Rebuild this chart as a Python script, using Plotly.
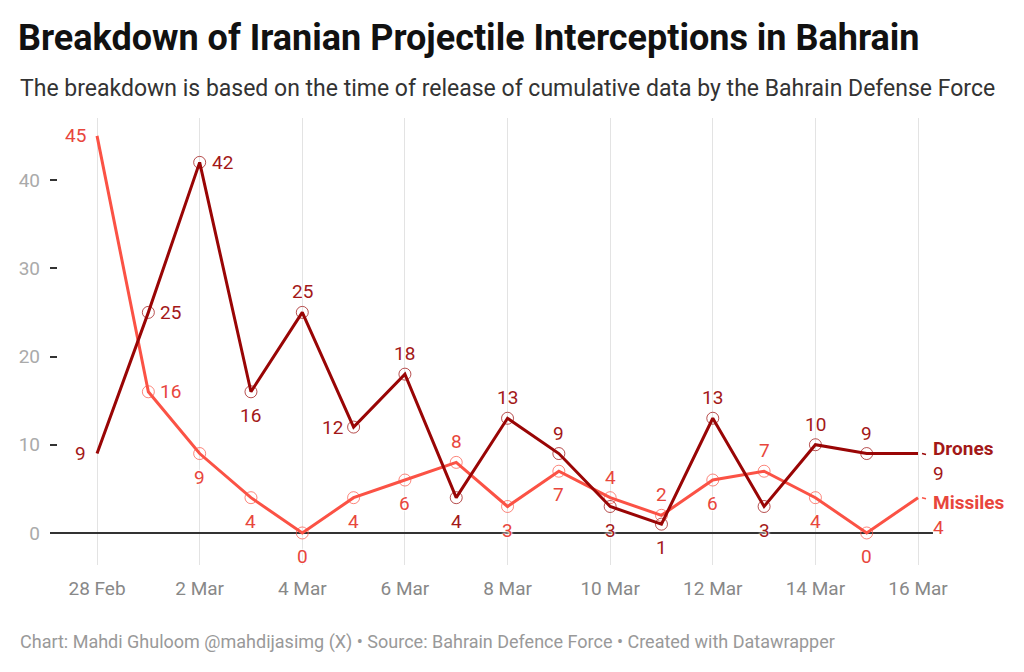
"""Interceptions de projectiles iraniens au Bahreïn (drones / missiles)"""

# imports
import plotly.graph_objects as go

# données
dates = ["2026-02-28", "2026-03-01", "2026-03-02", "2026-03-03", "2026-03-04",
         "2026-03-05", "2026-03-06", "2026-03-07", "2026-03-08", "2026-03-09",
         "2026-03-10", "2026-03-11", "2026-03-12", "2026-03-13", "2026-03-14",
         "2026-03-15", "2026-03-16"]
drones = [9, 25, 42, 16, 25, 12, 18, 4, 13, 9, 3, 1, 13, 3, 10, 9, 9]
missiles = [45, 16, 9, 4, 0, 4, 6, 8, 3, 7, 4, 2, 6, 7, 4, 0, 4]
tick_dates = ["2026-02-28", "2026-03-02", "2026-03-04", "2026-03-06", "2026-03-08",
              "2026-03-10", "2026-03-12", "2026-03-14", "2026-03-16"]
y_ticks = [0, 10, 20, 30, 40]

# position des étiquettes (le dernier point est étiqueté à droite avec le nom)
drones_pos = ["l", "r", "r", "b", "t", "l", "t", "b", "t", "t", "b", "b", "t", "b", "t", "t", None]
missiles_pos = ["l", "r", "b", "b", "b", "b", "b", "t", "b", "b", "t", "t", "b", "t", "b", "b", None]

DRONES_COL = "#990505"
DRONES_TXT = "#a31818"
MISS_COL = "#fb5245"
MISS_TXT = "#e8463c"

W, H = 1024, 672
ML, MR, MT, MB = 50, 91, 118, 107
PW, PH = W - ML - MR, H - MT - MB


def px_x(px):
    return (px - ML) / PW


def px_y(py):
    return (H - MB - py) / PH


OFFS = {
    "t": dict(xanchor="center", yanchor="bottom", xshift=0, yshift=7),
    "b": dict(xanchor="center", yanchor="top", xshift=0, yshift=-10),
    "l": dict(xanchor="right", yanchor="middle", xshift=-9, yshift=0),
    "r": dict(xanchor="left", yanchor="middle", xshift=10, yshift=0),
}
HALO = "0 0 2px #fff, 0 0 2px #fff, 0 0 3px #fff"


def series(name, values, color):
    sizes = [0] + [12] * (len(values) - 2) + [0]
    return go.Scatter(
        x=dates, y=values, name=name, mode="lines+markers",
        line=dict(color=color, width=3),
        marker=dict(symbol="circle-open", size=sizes, color=color,
                    opacity=0.7, line=dict(width=1, color=color)),
        hoverinfo="skip", showlegend=False,
    )


fig = go.Figure()
fig.add_trace(series("Missiles", missiles, MISS_COL))
fig.add_trace(series("Drones", drones, DRONES_COL))

annotations = []
for values, pos, col in ((drones, drones_pos, DRONES_TXT), (missiles, missiles_pos, MISS_TXT)):
    for d, v, p in zip(dates, values, pos):
        if p is None:
            continue
        annotations.append(dict(
            x=d, y=v, xref="x", yref="y", text=str(v), showarrow=False,
            font=dict(size=19, color=col, shadow=HALO), **OFFS[p]))

# noms des séries au bout des lignes
for name, values, col, dy in (("Drones", drones, DRONES_TXT, 2), ("Missiles", missiles, MISS_TXT, -8)):
    annotations.append(dict(
        x=dates[-1], y=values[-1], xref="x", yref="y",
        text="<b>" + name + "</b><br>" + str(values[-1]), align="left",
        showarrow=False, xanchor="left", yanchor="top", xshift=13, yshift=dy + 17,
        font=dict(size=19, color=col, shadow=HALO)))

annotations.append(dict(
    x=px_x(18), y=px_y(88), xref="paper", yref="paper", xanchor="left", yanchor="middle",
    text="The breakdown is based on the time of release of cumulative data by the Bahrain Defense Force",
    showarrow=False, font=dict(size=23, color="#333333")))
annotations.append(dict(
    x=px_x(18), y=px_y(642), xref="paper", yref="paper", xanchor="left", yanchor="middle",
    text="Chart: Mahdi Ghuloom @mahdijasimg (X) • Source: Bahrain Defence Force • Created with Datawrapper",
    showarrow=False, font=dict(size=18, color="#999999")))

shapes = []
for values, col in ((drones, DRONES_COL), (missiles, MISS_COL)):
    shapes.append(dict(
        type="line", xref="x", yref="y", xsizemode="pixel", ysizemode="pixel",
        xanchor=dates[-1], yanchor=values[-1], x0=4, x1=8, y0=0, y1=-1,
        line=dict(color=col, width=1.5)))

fig.update_layout(
    width=W, height=H,
    margin=dict(l=ML, r=MR, t=MT, b=MB),
    paper_bgcolor="white", plot_bgcolor="white",
    font=dict(family="Roboto", color="#333333"),
    title=dict(text="<b>Breakdown of Iranian Projectile Interceptions in Bahrain</b>",
               x=18 / W, xref="container", xanchor="left",
               y=1 - 37 / H, yref="container", yanchor="middle",
               font=dict(size=36, color="#111111")),
    xaxis=dict(type="date", range=["2026-02-27 02:00", "2026-03-16 07:00"],
               tickvals=tick_dates, tickformat="%-d %b",
               showgrid=True, gridcolor="#e3e3e3", gridwidth=1,
               zeroline=False, showline=False, ticks="",
               tickfont=dict(size=19, color="#888888"), ticklabelstandoff=10),
    yaxis=dict(range=[-3.63, 47.03], tickvals=y_ticks,
               showgrid=False, zeroline=True, zerolinecolor="#333333", zerolinewidth=1.5,
               ticks="inside", ticklen=7, tickwidth=1.5, tickcolor="#333333",
               showline=False, tickfont=dict(size=19, color="#aaaaaa"),
               ticklabelstandoff=9),
    annotations=annotations,
    shapes=shapes,
)

fig.write_html("out.html", config={"displayModeBar": False},
               post_script="document.body.style.margin='0';")
